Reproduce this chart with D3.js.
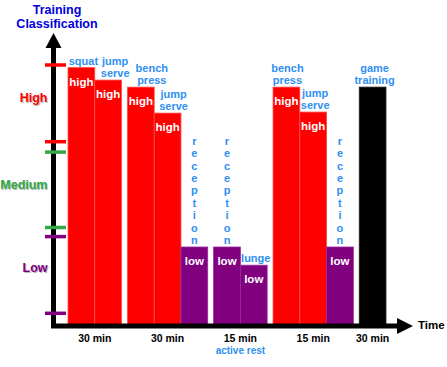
<!DOCTYPE html>
<html><head><meta charset="utf-8">
<script src="https://cdn.jsdelivr.net/npm/d3@7"></script>
<style>
html,body{margin:0;padding:0;background:#fff;}
text{font-family:"Liberation Sans",Arial,sans-serif;}
</style></head>
<body><svg id="c" width="447" height="367"></svg>
<script>
// ---- data ----
const activities = ["squat","jump serve","bench press","jump serve","reception","reception","lunge","bench press","jump serve","reception","game training"];
const intensity  = ["high","high","high","high","low","low","low","high","high","low","game"];
const values     = [99, 94.2, 91.5, 81.5, 30, 30, 23, 91.5, 81.9, 30, 91.5];
const groupOf    = [0,0,1,1,1,2,2,3,3,3,4];
const groupLabels = ["30 min","30 min","15 min","15 min","30 min"];
const groupSubLabels = ["","","active rest","",""];
const levelTicks = [4.5, 34, 37.5, 66.5, 70.5, 100];
const levelTickKind = ["low","low","medium","medium","high","high"];
const levelNames = ["High","Medium","Low"];
const levelPos = [87.3, 53.8, 22];

const colors = {high:"#ff0000", low:"#800080", game:"#000000", medium:"#33a845"};
const strokes = {high:"#ff4a4a", low:"#9a2a9a", game:"#222"};
const lightBlue = "#2f8ff2";
// horizontal nudges of the activity captions (as in the reference layout)
const captionShift = [2,7,11,6,0,0,2,1,2,0,2];

const svg = d3.select("#c");
const gap = 0.22;
const slot = (i) => i + groupOf[i]*gap;
const x = d3.scaleLinear().domain([0, 10 + 4*gap + 1]).range([68, 386]);
const y = d3.scaleLinear().domain([0, 100]).range([325, 65]);
const bw = x(1) - x(0);

const data = activities.map((a,i)=>({a, lvl:intensity[i], v:values[i], i, g:groupOf[i]}));

// bars
svg.selectAll("rect.bar").data(data).join("rect")
  .attr("class","bar")
  .attr("x", d=>x(slot(d.i)))
  .attr("y", d=>y(d.v))
  .attr("width", bw)
  .attr("height", d=>y(0)-y(d.v))
  .attr("fill", d=>colors[d.lvl])
  .attr("stroke", d=>strokes[d.lvl])
  .attr("stroke-width", 0.8);

// in-bar labels
svg.selectAll("text.in").data(data.filter(d=>d.lvl!=="game")).join("text")
  .attr("class","in")
  .attr("x", d=>x(slot(d.i))+bw/2)
  .attr("y", d=>y(d.v)+18)
  .attr("text-anchor","middle")
  .attr("font-size",11.5).attr("font-weight","bold").attr("fill","#fff")
  .text(d=>d.lvl);

// labels above bars
data.forEach(d=>{
  const cx = x(slot(d.i))+bw/2 + captionShift[d.i];
  const top = y(d.v);
  let lines;
  if (d.a === "reception") lines = d.a.split("");
  else lines = d.a.split(" ");
  const lh = lines.length>2 ? 12.4 : 12.5;
  lines.forEach((t,k)=>{
    svg.append("text")
      .attr("x", cx)
      .attr("y", top - 3 - (lines.length-1-k)*lh)
      .attr("text-anchor","middle")
      .attr("font-size",11).attr("font-weight","bold").attr("fill",lightBlue)
      .text(t);
  });
});

// axes
svg.append("line").attr("x1",53.5).attr("x2",53.5).attr("y1",328).attr("y2",46)
  .attr("stroke","#000").attr("stroke-width",5);
svg.append("path").attr("d","M53.5,33 L61.5,48 L45.5,48 Z").attr("fill","#000");
svg.append("line").attr("x1",51).attr("x2",399).attr("y1",326).attr("y2",326)
  .attr("stroke","#000").attr("stroke-width",5);
svg.append("path").attr("d","M413,326 L397,318 L397,334 Z").attr("fill","#000");

// y ticks (colored level bars on axis)
svg.selectAll("line.lt").data(levelTicks).join("line")
  .attr("class","lt")
  .attr("x1",45).attr("x2",66)
  .attr("y1",d=>y(d)).attr("y2",d=>y(d))
  .attr("stroke",(d,i)=>colors[levelTickKind[i]])
  .attr("stroke-width",3.5);

// level names
const lvlColor = [colors.high, colors.medium, colors.low];
levelNames.forEach((n,i)=>{
  svg.append("text").attr("x",48.5).attr("y",y(levelPos[i])+5.3)
    .attr("text-anchor","end").attr("font-size",12.5).attr("font-weight","bold")
    .attr("fill","#bbb").text(n);
  svg.append("text").attr("x",47.5).attr("y",y(levelPos[i])+4.3)
    .attr("text-anchor","end").attr("font-size",12.5).attr("font-weight","bold")
    .attr("fill",lvlColor[i]).text(n);
});

// title
svg.append("text").attr("x",57).attr("y",14).attr("text-anchor","middle")
  .attr("font-size",12.5).attr("font-weight","bold").attr("fill","#0000dd").text("Training");
svg.append("text").attr("x",57).attr("y",28).attr("text-anchor","middle")
  .attr("font-size",12.5).attr("font-weight","bold").attr("fill","#0000dd").text("Classification");

// time label
svg.append("text").attr("x",418).attr("y",329).attr("font-size",11.5)
  .attr("font-weight","bold").attr("fill","#000").text("Time");

// group labels
groupLabels.forEach((lab,g)=>{
  const idx = data.filter(d=>d.g===g).map(d=>d.i);
  const cx = (x(slot(d3.min(idx))) + x(slot(d3.max(idx)))+bw)/2;
  svg.append("text").attr("x",cx).attr("y",342).attr("text-anchor","middle")
    .attr("font-size",10.5).attr("font-weight","bold").attr("fill","#000").text(lab);
  if (groupSubLabels[g]) {
    svg.append("text").attr("x",cx).attr("y",354).attr("text-anchor","middle")
      .attr("font-size",10).attr("font-weight","bold").attr("fill",lightBlue).text(groupSubLabels[g]);
  }
});
</script></body></html>
